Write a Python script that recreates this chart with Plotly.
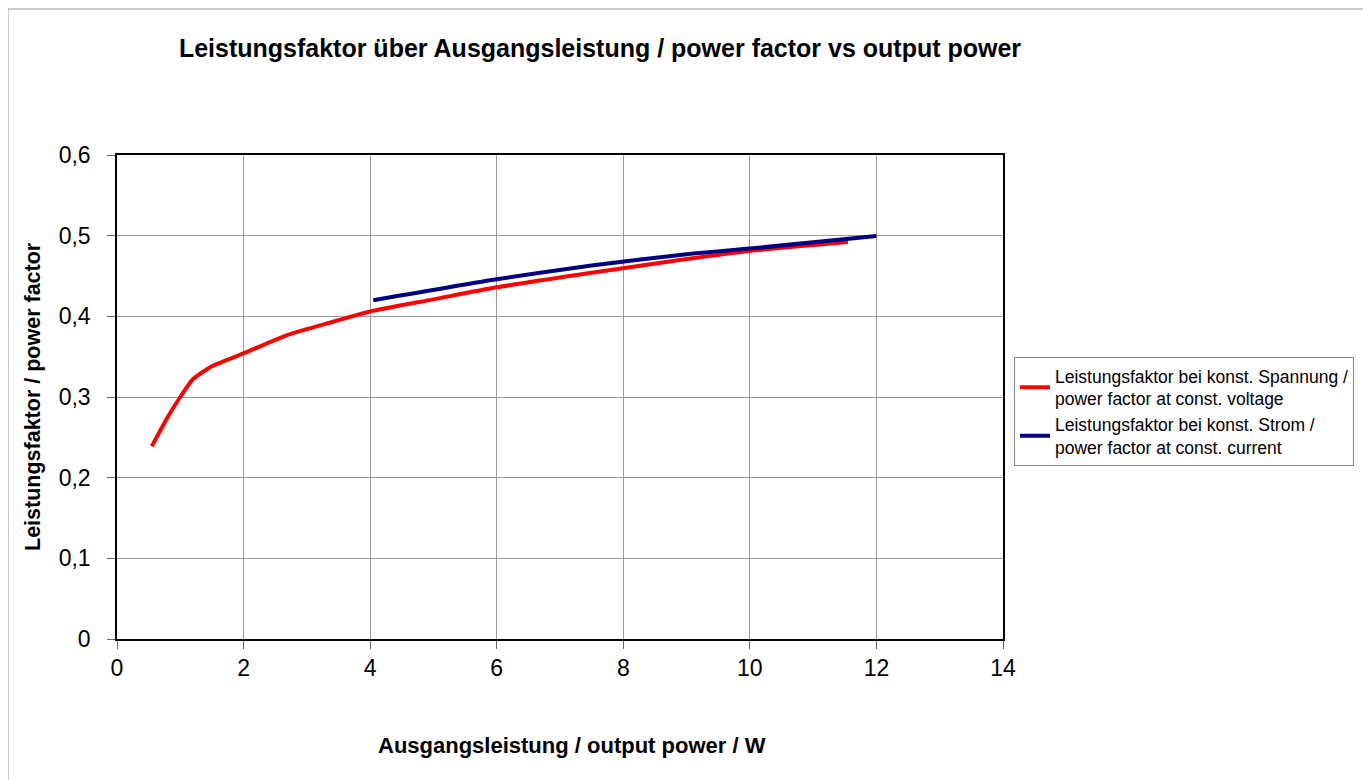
import plotly.graph_objects as go

# data
x_voltage = [0.55, 0.8, 1.0, 1.2, 1.5, 2.0, 2.7, 3.4, 4.0, 5.0, 6.0, 7.5, 9.0, 10.0, 11.55]
pf_voltage = [0.239, 0.275, 0.300, 0.322, 0.338, 0.354, 0.377, 0.393, 0.406, 0.421, 0.436, 0.454, 0.471, 0.481, 0.492]
x_current = [4.05, 6.0, 7.5, 9.0, 10.0, 12.0]
pf_current = [0.420, 0.446, 0.463, 0.477, 0.484, 0.4995]

name_voltage = "Leistungsfaktor bei konst. Spannung /<br>power factor at const. voltage"
name_current = "Leistungsfaktor bei konst. Strom /<br>power factor at const. current"
title_text = "Leistungsfaktor über Ausgangsleistung / power factor vs output power"
x_title = "Ausgangsleistung / output power / W"
y_title = "Leistungsfaktor / power factor"
x_ticks = [0, 2, 4, 6, 8, 10, 12, 14]
x_ticklabels = ["0", "2", "4", "6", "8", "10", "12", "14"]
y_ticks = [0, 0.1, 0.2, 0.3, 0.4, 0.5, 0.6]
y_ticklabels = ["0", "0,1", "0,2", "0,3", "0,4", "0,5", "0,6"]

FONT = "Liberation Sans, Arial, sans-serif"

# page body has an 8px margin; the plot area in the reference spans x 117..1003, y 155..639
OFF = 8
PL, PT, PW, PH = 117 - OFF, 155 - OFF, 886, 484
W, H = 1371, 780


def px(xs):
    return (xs - 117) / PW


def py(ys):
    return (639 - ys) / PH


fig = go.Figure()
fig.add_trace(go.Scatter(x=x_voltage, y=pf_voltage, mode="lines", name=name_voltage,
                         line=dict(color="#ff0000", width=4, shape="spline", smoothing=0.6)))
fig.add_trace(go.Scatter(x=x_current, y=pf_current, mode="lines", name=name_current,
                         line=dict(color="#000080", width=4, shape="spline", smoothing=0.6)))

fig.update_layout(
    width=W, height=H,
    margin=dict(l=PL, r=W - PL - PW, t=PT, b=H - PT - PH),
    paper_bgcolor="white", plot_bgcolor="white",
    font=dict(family=FONT, color="black"),
    showlegend=True,
    legend=dict(x=px(1014), y=py(357), xanchor="left", yanchor="top",
                bordercolor="#888888", borderwidth=1, bgcolor="white",
                font=dict(size=17.5, family=FONT), tracegroupgap=5,
                itemwidth=30),
    xaxis=dict(range=[0, 14], tickvals=x_ticks, ticktext=x_ticklabels,
               showgrid=True, gridcolor="#999999", gridwidth=1,
               showline=True, linecolor="black", linewidth=1.5, mirror=True,
               ticks="outside", ticklen=8, tickcolor="#666666",
               tickfont=dict(size=23, family=FONT), zeroline=False),
    yaxis=dict(range=[0, 0.6], tickvals=y_ticks, ticktext=y_ticklabels,
               showgrid=True, gridcolor="#999999", gridwidth=1,
               showline=True, linecolor="black", linewidth=1.5, mirror=True,
               ticks="outside", ticklen=8, tickcolor="#666666", ticklabelstandoff=12,
               tickfont=dict(size=23, family=FONT), zeroline=False),
)

fig.update_layout(title=dict(text="<b>" + title_text + "</b>", xref="container", yref="container",
                             x=(600 - OFF) / W, y=1 - (48 - OFF) / H, xanchor="center", yanchor="middle",
                             font=dict(size=25, family=FONT, color="black")))

fig.add_annotation(text="<b>" + x_title + "</b>", xref="paper", yref="paper",
                   x=px(572), y=py(745), showarrow=False,
                   xanchor="center", yanchor="middle", font=dict(size=22, family=FONT))
fig.add_annotation(text="<b>" + y_title + "</b>", xref="paper", yref="paper",
                   x=px(33), y=py(397), showarrow=False, textangle=-90,
                   xanchor="center", yanchor="middle", font=dict(size=21.5, family=FONT))

# outer chart frame
fig.add_shape(type="rect", xref="paper", yref="paper",
              x0=px(8), x1=px(1366), y0=py(790), y1=py(9),
              line=dict(color="#999999", width=1), layer="below")
fig.add_shape(type="line", xref="paper", yref="paper",
              x0=px(1367), x1=px(1367), y0=py(790), y1=py(9),
              line=dict(color="#333333", width=2))

fig.write_html("out.html")
